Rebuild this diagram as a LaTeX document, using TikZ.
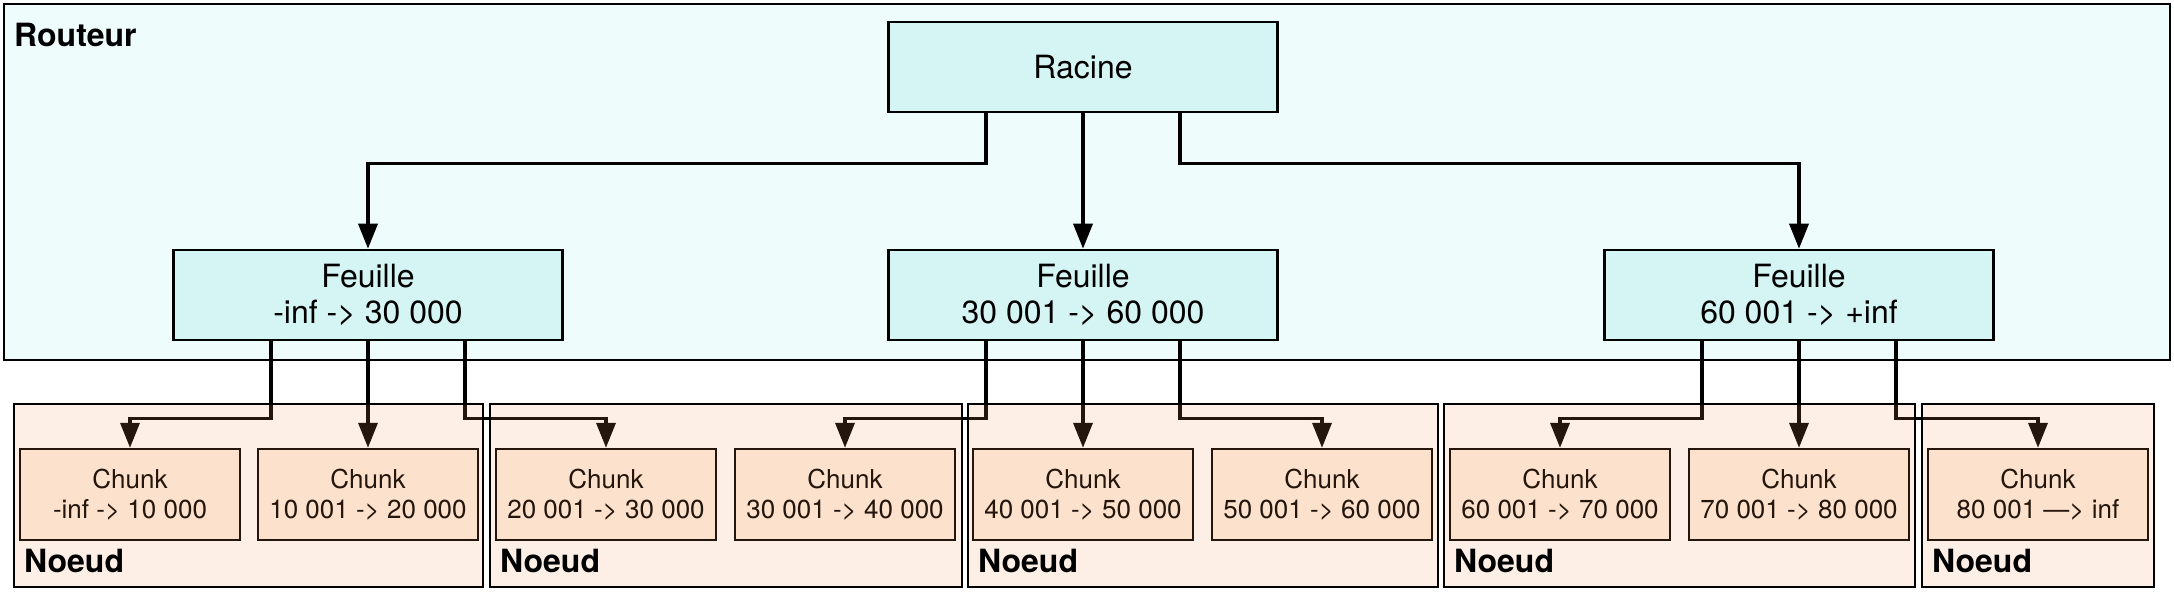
\documentclass[tikz,border=0pt]{standalone}
\usepackage{fontspec}
\setmainfont{TeX Gyre Heros}
\usetikzlibrary{arrows.meta,calc}
\definecolor{routfill}{RGB}{238,252,252}
\definecolor{feuillefill}{RGB}{213,245,244}
\definecolor{chunkfill}{RGB}{254,238,224}
\definecolor{noeudtint}{RGB}{247,153,93}
\begin{document}
\begin{tikzpicture}[x=1pt,y=-1pt,
  box/.style={draw=black, line width=2.6pt, inner sep=0pt, align=center},
  routbox/.style={box, fill=routfill, minimum width=2166pt, minimum height=356pt},
  treebox/.style={box, fill=feuillefill, minimum width=389pt, minimum height=90pt,
     font=\fontsize{32}{35.5}\selectfont},
  chunkbox/.style={box, line width=2.4pt, fill=chunkfill, minimum width=220pt, minimum height=91pt,
     font=\fontsize{26}{30}\selectfont},
  noeudbox/.style={draw=black, line width=2.6pt, fill=noeudtint, fill opacity=0.15,
     draw opacity=1, inner sep=0pt, minimum height=183pt},
  grouplabel/.style={anchor=base west, inner sep=0pt, font=\fontsize{32}{32}\bfseries\selectfont},
  arr/.style={line width=3.6pt, line join=miter, -{Triangle[length=25pt,width=19pt]}}
]
\useasboundingbox (0,0) rectangle (2174,592);
\fill[white] (0,0) rectangle (2174,592);

% Routeur
\node[routbox] (rout) at (1087,182) {};
\node[grouplabel] (routlbl) at (14,46) {Routeur};

% Tree
\node[treebox] (rac) at (1083,67) {Racine};
\node[treebox] (f1) at (368,295) {Feuille\\-inf -> 30 000};
\node[treebox] (f2) at (1083,295) {Feuille\\30 001 -> 60 000};
\node[treebox] (f3) at (1799,295) {Feuille\\60 001 -> +inf};

% Chunks
\node[chunkbox] (c1) at (130,494.5) {Chunk\\-inf -> 10 000};
\node[chunkbox] (c2) at (368,494.5) {Chunk\\10 001 -> 20 000};
\node[chunkbox] (c3) at (606,494.5) {Chunk\\20 001 -> 30 000};
\node[chunkbox] (c4) at (845,494.5) {Chunk\\30 001 -> 40 000};
\node[chunkbox] (c5) at (1083,494.5) {Chunk\\40 001 -> 50 000};
\node[chunkbox] (c6) at (1322,494.5) {Chunk\\50 001 -> 60 000};
\node[chunkbox] (c7) at (1560,494.5) {Chunk\\60 001 -> 70 000};
\node[chunkbox] (c8) at (1799,494.5) {Chunk\\70 001 -> 80 000};
\node[chunkbox] (c9) at (2038,494.5) {Chunk\\80 001 —> inf};

% Connectors from the root
\draw[arr] ([xshift=-97pt]rac.south) -- ++(0,50) -| (f1.north);
\draw[arr] (rac.south) -- (f2.north);
\draw[arr] ([xshift=97pt]rac.south) -- ++(0,50) -| (f3.north);

% Connectors from the leaves
\draw[arr] ([xshift=-97pt]f1.south) -- ++(0,77) -| (c1.north);
\draw[arr] (f1.south) -- (c2.north);
\draw[arr] ([xshift=97pt]f1.south) -- ++(0,77) -| (c3.north);
\draw[arr] ([xshift=-97pt]f2.south) -- ++(0,77) -| (c4.north);
\draw[arr] (f2.south) -- (c5.north);
\draw[arr] ([xshift=97pt]f2.south) -- ++(0,77) -| (c6.north);
\draw[arr] ([xshift=-97pt]f3.south) -- ++(0,77) -| (c7.north);
\draw[arr] (f3.south) -- (c8.north);
\draw[arr] ([xshift=97pt]f3.south) -- ++(0,77) -| (c9.north);

% Noeud groups (tinted overlay)
\node[noeudbox, minimum width=469pt] (n1) at (248.5,495.5) {};
\node[noeudbox, minimum width=472pt] (n2) at (726,495.5) {};
\node[noeudbox, minimum width=470pt] (n3) at (1203,495.5) {};
\node[noeudbox, minimum width=471pt] (n4) at (1679.5,495.5) {};
\node[noeudbox, minimum width=232pt] (n5) at (2038,495.5) {};

\node[grouplabel] (l1) at (24,572) {Noeud};
\node[grouplabel] (l2) at (500,572) {Noeud};
\node[grouplabel] (l3) at (978,572) {Noeud};
\node[grouplabel] (l4) at (1454,572) {Noeud};
\node[grouplabel] (l5) at (1932,572) {Noeud};
\end{tikzpicture}
\end{document}
